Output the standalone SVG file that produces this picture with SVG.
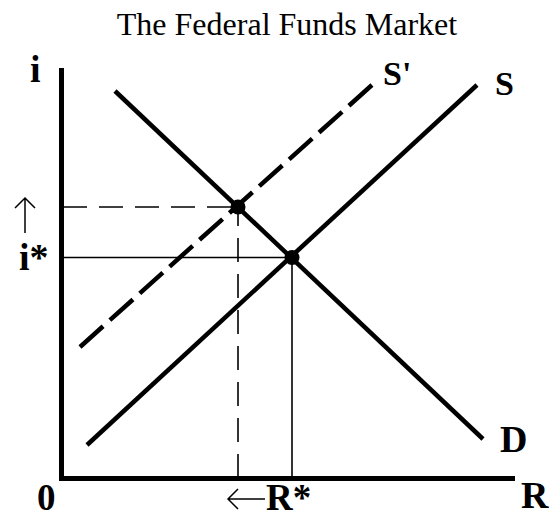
<svg xmlns="http://www.w3.org/2000/svg" width="551" height="518" viewBox="0 0 551 518">
<style>
.lbl{font-family:"Liberation Serif","Times New Roman",serif;font-weight:bold;font-size:38px;fill:#000}
.title{font-family:"Liberation Serif","Times New Roman",serif;font-size:32px;fill:#000}
.curve{stroke:#000;stroke-width:4.5;fill:none}
.thin{stroke:#000;stroke-width:1.6;fill:none}
.dash{stroke-dasharray:24 12}
.arrow{stroke:#000;stroke-width:1.5;fill:none}
</style>
<rect width="551" height="518" fill="#fff"/>
<text class="title" x="287" y="35" text-anchor="middle">The Federal Funds Market</text>
<g id="axes">
<path d="M61.5,68 V478.5 H515" stroke="#000" stroke-width="5" fill="none" stroke-linejoin="miter"/>
</g>
<g id="connectors">
<path class="thin dash" d="M63,207 H238"/>
<path class="thin dash" d="M238,478 V207"/>
<path class="thin" d="M63,257.5 H292"/>
<path class="thin" d="M292,257.5 V478"/>
</g>
<g id="curve-D"><path class="curve" d="M115,91 L483,439"/></g>
<g id="curve-S"><path class="curve" d="M87,445 L477,85"/></g>
<g id="curve-S-prime"><path class="curve" stroke-dasharray="31 9.14" d="M80,347 L372,85"/></g>
<g id="eq-new"><circle cx="238" cy="207" r="7.5"/></g>
<g id="eq-old"><circle cx="292" cy="257.5" r="7.5"/></g>
<g id="arrows">
<path class="arrow" d="M25,233 V198 M15,208 L25,198 L35,208"/>
<path class="arrow" d="M265,499 H228 M238,489 L228,499 L238,509"/>
</g>
<g id="labels">
<text class="lbl" x="30" y="82">i</text>
<text class="lbl" x="19" y="270">i*</text>
<text class="lbl" x="37" y="510" style="font-size:37px">0</text>
<text class="lbl" x="266" y="510" style="font-size:37px">R*</text>
<text class="lbl" x="521" y="508">R</text>
<text class="lbl" x="500" y="452">D</text>
<text class="lbl" x="383" y="85" style="font-size:34px">S'</text>
<text class="lbl" x="495" y="95" style="font-size:34px">S</text>
</g>
</svg>
